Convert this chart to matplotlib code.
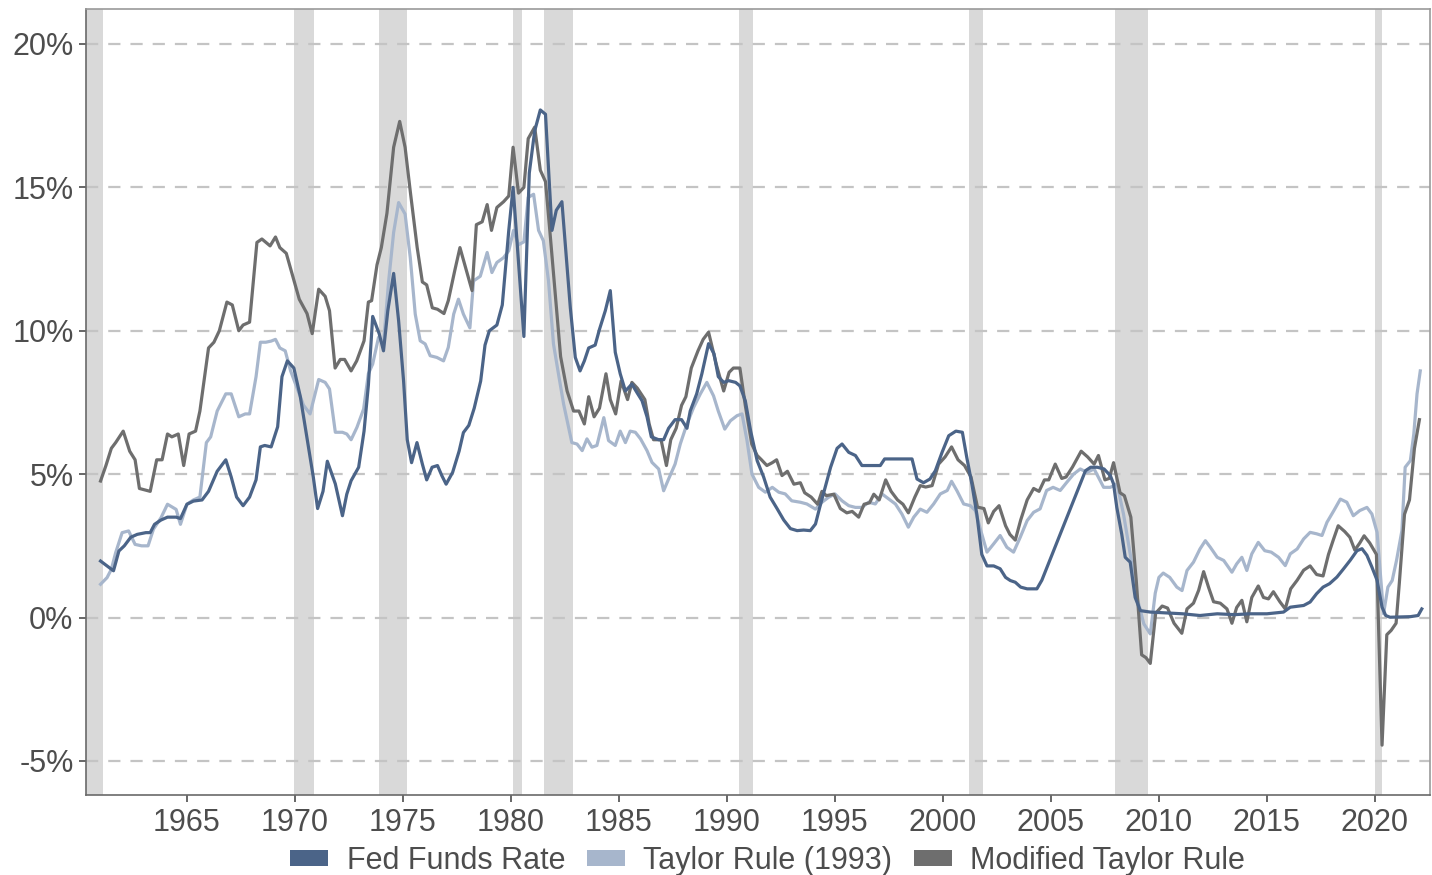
import matplotlib.pyplot as plt
from matplotlib.patches import Patch
from matplotlib.ticker import FuncFormatter

plt.rcParams['font.family'] = ['Liberation Sans', 'DejaVu Sans']

# values (year, percent)
fed_years = [1961.0, 1961.3, 1961.6, 1961.85, 1962.1, 1962.4, 1962.7, 1963.1, 1963.3, 1963.5,
             1963.8, 1964.1, 1964.5, 1964.7, 1965.0, 1965.3, 1965.7, 1966.0, 1966.4, 1966.8,
             1967.05, 1967.3, 1967.6, 1967.9, 1968.2, 1968.4, 1968.6, 1968.9, 1969.2, 1969.4,
             1969.65, 1969.95, 1970.25, 1970.55, 1970.85, 1971.05, 1971.3, 1971.5, 1971.87, 1972.2,
             1972.4, 1972.6, 1972.95, 1973.2, 1973.4, 1973.6, 1973.9, 1974.1, 1974.3, 1974.57,
             1974.8, 1975.03, 1975.2, 1975.4, 1975.65, 1975.9, 1976.1, 1976.35, 1976.6, 1976.8,
             1977.0, 1977.3, 1977.6, 1977.8, 1978.05, 1978.3, 1978.6, 1978.8, 1979.0, 1979.35,
             1979.6, 1979.9, 1980.1, 1980.35, 1980.6, 1980.85, 1981.1, 1981.36, 1981.6, 1981.9,
             1982.1, 1982.36, 1982.75, 1982.98, 1983.2, 1983.4, 1983.6, 1983.9, 1984.1, 1984.37,
             1984.6, 1984.83, 1985.06, 1985.3, 1985.6, 1985.83, 1986.07, 1986.3, 1986.5, 1986.84,
             1987.07, 1987.3, 1987.6, 1987.9, 1988.15, 1988.3, 1988.6, 1988.84, 1989.15, 1989.4,
             1989.6, 1989.85, 1990.08, 1990.4, 1990.6, 1990.85, 1991.1, 1991.4, 1991.7, 1992.0,
             1992.32, 1992.63, 1992.94, 1993.25, 1993.55, 1993.86, 1994.1, 1994.3, 1994.55, 1994.8,
             1995.1, 1995.33, 1995.64, 1995.95, 1996.25, 1996.6, 1997.1, 1997.3, 1997.7, 1998.2,
             1998.57, 1998.8, 1999.1, 1999.4, 1999.65, 1999.96, 2000.27, 2000.6, 2000.9, 2001.1,
             2001.34, 2001.57, 2001.8, 2002.04, 2002.35, 2002.65, 2002.9, 2003.12, 2003.35, 2003.6,
             2003.9, 2004.35, 2004.58, 2006.6, 2006.84, 2007.15, 2007.46, 2007.75, 2007.9, 2008.05,
             2008.28, 2008.44, 2008.67, 2008.9, 2009.14, 2009.6, 2011.1, 2011.9, 2012.7, 2013.5,
             2014.2, 2015.0, 2015.77, 2016.08, 2016.7, 2017.0, 2017.3, 2017.6, 2017.9, 2018.24,
             2018.55, 2018.86, 2019.17, 2019.4, 2019.63, 2019.86, 2020.1, 2020.33, 2020.5, 2020.7,
             2021.64, 2022.0, 2022.17]
fed_rate = [1.97, 1.8, 1.63, 2.32, 2.5, 2.8, 2.9, 2.96, 2.96, 3.25,
            3.4, 3.5, 3.5, 3.45, 3.95, 4.06, 4.1, 4.4, 5.1, 5.5,
            4.9, 4.2, 3.9, 4.2, 4.8, 5.95, 6.0, 5.95, 6.65, 8.4,
            8.95, 8.7, 7.7, 6.3, 4.9, 3.8, 4.4, 5.45, 4.66, 3.55,
            4.3, 4.77, 5.24, 6.5, 8.1, 10.5, 9.9, 9.3, 10.7, 12.0,
            10.35, 8.25, 6.2, 5.4, 6.1, 5.35, 4.8, 5.24, 5.3, 4.95,
            4.65, 5.06, 5.8, 6.45, 6.7, 7.3, 8.25, 9.5, 10.0, 10.2,
            10.9, 13.5, 15.0, 12.4, 9.8, 15.5, 16.97, 17.7, 17.55, 13.5,
            14.2, 14.5, 10.8, 9.07, 8.6, 8.95, 9.4, 9.5, 10.05, 10.7,
            11.4, 9.25, 8.5, 7.9, 8.14, 7.85, 7.56, 7.0, 6.3, 6.2,
            6.2, 6.6, 6.9, 6.9, 6.6, 7.2, 7.8, 8.5, 9.55, 9.2,
            8.4, 8.2, 8.26, 8.2, 8.08, 7.56, 6.5, 5.47, 4.9, 4.2,
            3.8, 3.4, 3.1, 3.03, 3.05, 3.03, 3.26, 3.85, 4.54, 5.24,
            5.9, 6.05, 5.76, 5.65, 5.3, 5.3, 5.3, 5.53, 5.53, 5.53,
            5.53, 4.83, 4.7, 4.83, 5.12, 5.76, 6.34, 6.5, 6.46, 5.6,
            4.66, 3.6, 2.2, 1.8, 1.8, 1.7, 1.4, 1.29, 1.23, 1.06,
            1.0, 1.0, 1.3, 5.12, 5.24, 5.24, 5.18, 4.95, 4.66, 3.84,
            2.9, 2.1, 1.93, 0.7, 0.24, 0.19, 0.13, 0.07, 0.13, 0.1,
            0.13, 0.13, 0.19, 0.36, 0.42, 0.54, 0.83, 1.06, 1.18, 1.41,
            1.7, 2.0, 2.33, 2.4, 2.17, 1.76, 1.3, 0.36, 0.07, 0.01,
            0.03, 0.07, 0.3]

taylor_years = [1961.0, 1961.3, 1961.5, 1961.7, 1962.0, 1962.3, 1962.6, 1962.9, 1963.2, 1963.45,
                1963.8, 1964.1, 1964.5, 1964.7, 1965.0, 1965.3, 1965.6, 1965.9, 1966.1, 1966.4,
                1966.8, 1967.05, 1967.4, 1967.7, 1967.9, 1968.2, 1968.4, 1968.65, 1968.9, 1969.1,
                1969.3, 1969.55, 1969.8, 1970.1, 1970.4, 1970.7, 1971.1, 1971.4, 1971.6, 1971.87,
                1972.2, 1972.4, 1972.6, 1972.87, 1973.18, 1973.4, 1973.6, 1973.87, 1974.1, 1974.34,
                1974.57, 1974.8, 1975.1, 1975.34, 1975.57, 1975.8, 1976.03, 1976.26, 1976.57, 1976.88,
                1977.1, 1977.35, 1977.57, 1977.8, 1978.1, 1978.27, 1978.58, 1978.9, 1979.12, 1979.35,
                1979.66, 1979.9, 1980.12, 1980.35, 1980.6, 1980.8, 1981.05, 1981.28, 1981.5, 1981.74,
                1981.97, 1982.2, 1982.44, 1982.67, 1982.82, 1983.06, 1983.3, 1983.52, 1983.75, 1983.98,
                1984.3, 1984.52, 1984.83, 1985.06, 1985.3, 1985.52, 1985.76, 1986.0, 1986.3, 1986.53,
                1986.84, 1987.07, 1987.3, 1987.6, 1987.84, 1988.15, 1988.46, 1988.77, 1989.07, 1989.38,
                1989.6, 1989.9, 1990.16, 1990.47, 1990.7, 1990.93, 1991.16, 1991.47, 1991.78, 1992.1,
                1992.4, 1992.7, 1993.0, 1993.4, 1993.7, 1994.1, 1994.4, 1994.7, 1995.0, 1995.33,
                1995.64, 1995.95, 1996.25, 1996.56, 1996.87, 1997.18, 1997.5, 1997.8, 1998.1, 1998.4,
                1998.65, 1998.95, 1999.26, 1999.57, 1999.88, 2000.2, 2000.4, 2000.65, 2000.96, 2001.27,
                2001.5, 2001.73, 2002.04, 2002.35, 2002.65, 2002.96, 2003.27, 2003.58, 2003.9, 2004.2,
                2004.5, 2004.8, 2005.1, 2005.43, 2005.74, 2006.05, 2006.36, 2006.67, 2007.0, 2007.2,
                2007.44, 2007.75, 2008.06, 2008.36, 2008.67, 2008.98, 2009.3, 2009.6, 2009.83, 2010.0,
                2010.2, 2010.5, 2010.83, 2011.07, 2011.3, 2011.6, 2011.9, 2012.15, 2012.38, 2012.7,
                2013.0, 2013.38, 2013.6, 2013.84, 2014.07, 2014.3, 2014.6, 2014.9, 2015.2, 2015.54,
                2015.85, 2016.08, 2016.4, 2016.7, 2017.0, 2017.3, 2017.55, 2017.78, 2018.1, 2018.4,
                2018.7, 2019.0, 2019.3, 2019.63, 2019.86, 2020.1, 2020.4, 2020.6, 2020.8, 2021.0,
                2021.25, 2021.4, 2021.64, 2021.8, 2021.95, 2022.1]
taylor_rate = [1.16, 1.39, 1.68, 2.26, 2.96, 3.02, 2.55, 2.5, 2.5, 3.08,
               3.48, 3.95, 3.77, 3.25, 3.95, 4.1, 4.2, 6.1, 6.3, 7.2,
               7.8, 7.8, 7.0, 7.1, 7.1, 8.4, 9.6, 9.6, 9.64, 9.7,
               9.4, 9.3, 8.6, 8.0, 7.4, 7.1, 8.3, 8.2, 7.97, 6.46,
               6.46, 6.4, 6.2, 6.63, 7.27, 8.5, 8.84, 9.77, 9.54, 11.74,
               13.43, 14.47, 14.07, 12.55, 10.58, 9.65, 9.54, 9.13, 9.07, 8.95,
               9.42, 10.58, 11.1, 10.58, 10.1, 11.74, 11.9, 12.73, 12.03, 12.38,
               12.55, 12.79, 13.5, 13.0, 13.1, 14.65, 14.76, 13.5, 13.14, 11.74,
               9.54, 8.5, 7.44, 6.63, 6.1, 6.05, 5.82, 6.23, 5.94, 6.0,
               6.97, 6.17, 6.0, 6.5, 6.1, 6.5, 6.46, 6.23, 5.82, 5.41,
               5.18, 4.42, 4.83, 5.35, 6.05, 6.75, 7.33, 7.8, 8.2, 7.73,
               7.2, 6.57, 6.86, 7.04, 7.1, 6.17, 5.0, 4.54, 4.37, 4.54,
               4.37, 4.31, 4.07, 4.02, 3.96, 3.78, 4.02, 4.19, 4.31, 4.07,
               3.9, 3.84, 3.84, 4.02, 3.96, 4.31, 4.13, 3.96, 3.61, 3.15,
               3.5, 3.78, 3.67, 3.96, 4.31, 4.43, 4.75, 4.42, 3.96, 3.9,
               3.73, 3.09, 2.28, 2.57, 2.86, 2.45, 2.28, 2.8, 3.38, 3.67,
               3.79, 4.43, 4.54, 4.43, 4.72, 5.0, 5.18, 5.06, 5.18, 4.89,
               4.54, 4.54, 4.66, 3.61, 2.22, 0.71, -0.22, -0.57, 0.85, 1.4,
               1.55, 1.4, 1.06, 0.94, 1.64, 1.93, 2.39, 2.68, 2.45, 2.1,
               1.99, 1.58, 1.87, 2.1, 1.64, 2.22, 2.62, 2.33, 2.28, 2.1,
               1.81, 2.22, 2.39, 2.74, 2.97, 2.92, 2.86, 3.32, 3.73, 4.13,
               4.02, 3.55, 3.73, 3.84, 3.61, 2.97, 0.13, 1.06, 1.29, 1.99,
               3.03, 5.24, 5.47, 6.4, 7.8, 8.6]

modified_years = [1961.0, 1961.25, 1961.5, 1961.7, 1962.05, 1962.35, 1962.6, 1962.8, 1963.3, 1963.6,
                  1963.85, 1964.1, 1964.3, 1964.6, 1964.85, 1965.1, 1965.4, 1965.6, 1966.0, 1966.25,
                  1966.5, 1966.85, 1967.1, 1967.4, 1967.6, 1967.9, 1968.24, 1968.47, 1968.85, 1969.1,
                  1969.3, 1969.6, 1969.9, 1970.2, 1970.56, 1970.8, 1971.1, 1971.4, 1971.6, 1971.86,
                  1972.1, 1972.3, 1972.6, 1972.86, 1973.2, 1973.4, 1973.55, 1973.8, 1974.0, 1974.26,
                  1974.57, 1974.85, 1975.1, 1975.35, 1975.66, 1975.9, 1976.1, 1976.36, 1976.6, 1976.9,
                  1977.1, 1977.4, 1977.64, 1977.9, 1978.2, 1978.4, 1978.67, 1978.9, 1979.1, 1979.35,
                  1979.66, 1979.9, 1980.1, 1980.35, 1980.6, 1980.8, 1981.1, 1981.36, 1981.6, 1981.8,
                  1982.05, 1982.3, 1982.6, 1982.9, 1983.15, 1983.4, 1983.6, 1983.85, 1984.1, 1984.4,
                  1984.6, 1984.85, 1985.1, 1985.4, 1985.6, 1985.85, 1986.2, 1986.4, 1986.6, 1986.95,
                  1987.2, 1987.4, 1987.65, 1987.9, 1988.1, 1988.35, 1988.66, 1988.9, 1989.15, 1989.5,
                  1989.85, 1990.1, 1990.3, 1990.6, 1990.85, 1991.15, 1991.4, 1991.6, 1991.85, 1992.1,
                  1992.3, 1992.55, 1992.8, 1993.1, 1993.4, 1993.6, 1993.9, 1994.2, 1994.4, 1994.6,
                  1994.95, 1995.25, 1995.55, 1995.8, 1996.1, 1996.35, 1996.6, 1996.8, 1997.05, 1997.35,
                  1997.6, 1997.9, 1998.15, 1998.4, 1998.7, 1998.95, 1999.2, 1999.5, 1999.8, 2000.1,
                  2000.4, 2000.7, 2001.0, 2001.3, 2001.6, 2001.9, 2002.1, 2002.35, 2002.6, 2002.9,
                  2003.1, 2003.35, 2003.6, 2003.9, 2004.2, 2004.45, 2004.7, 2004.9, 2005.2, 2005.5,
                  2005.7, 2006.0, 2006.4, 2006.7, 2007.0, 2007.2, 2007.5, 2007.7, 2007.9, 2008.2,
                  2008.4, 2008.7, 2008.95, 2009.2, 2009.4, 2009.6, 2009.85, 2010.15, 2010.4, 2010.7,
                  2011.06, 2011.3, 2011.6, 2011.84, 2012.07, 2012.3, 2012.53, 2012.84, 2013.15, 2013.38,
                  2013.6, 2013.84, 2014.07, 2014.3, 2014.6, 2014.84, 2015.07, 2015.3, 2015.6, 2015.85,
                  2016.1, 2016.4, 2016.7, 2017.0, 2017.3, 2017.6, 2017.85, 2018.07, 2018.3, 2018.6,
                  2018.84, 2019.07, 2019.3, 2019.5, 2019.76, 2020.07, 2020.33, 2020.55, 2020.75, 2020.98,
                  2021.13, 2021.37, 2021.6, 2021.83, 2022.06]
modified_rate = [4.76, 5.3, 5.9, 6.1, 6.5, 5.8, 5.5, 4.5, 4.4, 5.5,
                 5.5, 6.4, 6.3, 6.4, 5.3, 6.4, 6.5, 7.2, 9.4, 9.6,
                 10.0, 11.0, 10.9, 10.0, 10.2, 10.3, 13.08, 13.2, 12.96, 13.27,
                 12.9, 12.7, 11.9, 11.1, 10.6, 9.9, 11.45, 11.2, 10.7, 8.7,
                 9.0, 9.0, 8.6, 8.95, 9.65, 11.0, 11.05, 12.3, 12.9, 14.1,
                 16.4, 17.3, 16.4, 14.8, 12.9, 11.7, 11.6, 10.8, 10.75, 10.6,
                 11.05, 12.1, 12.9, 12.2, 11.4, 13.7, 13.8, 14.4, 13.5, 14.3,
                 14.5, 14.7, 16.4, 14.8, 15.0, 16.7, 17.1, 15.6, 15.2, 13.5,
                 11.3, 9.1, 7.9, 7.2, 7.2, 6.75, 7.7, 7.0, 7.3, 8.5,
                 7.6, 7.1, 8.25, 7.6, 8.2, 8.0, 7.6, 6.75, 6.2, 6.2,
                 5.3, 6.2, 6.6, 7.4, 7.7, 8.7, 9.3, 9.7, 9.95, 8.85,
                 7.9, 8.55, 8.7, 8.7, 7.4, 6.05, 5.65, 5.5, 5.3, 5.4,
                 5.5, 4.95, 5.1, 4.65, 4.7, 4.35, 4.2, 3.95, 4.4, 4.25,
                 4.3, 3.8, 3.65, 3.7, 3.5, 3.95, 4.0, 4.3, 4.1, 4.8,
                 4.4, 4.1, 3.95, 3.65, 4.2, 4.6, 4.55, 4.6, 5.35, 5.6,
                 5.95, 5.5, 5.3, 4.9, 3.85, 3.8, 3.3, 3.7, 3.9, 3.2,
                 2.9, 2.7, 3.4, 4.1, 4.5, 4.4, 4.8, 4.8, 5.35, 4.85,
                 4.9, 5.25, 5.8, 5.6, 5.35, 5.65, 4.8, 4.85, 5.4, 4.35,
                 4.25, 3.5, 1.3, -1.3, -1.4, -1.6, 0.15, 0.4, 0.33, -0.2,
                 -0.55, 0.3, 0.5, 0.95, 1.6, 1.05, 0.55, 0.5, 0.3, -0.2,
                 0.35, 0.6, -0.15, 0.7, 1.1, 0.7, 0.65, 0.9, 0.55, 0.3,
                 1.0, 1.3, 1.65, 1.8, 1.5, 1.45, 2.2, 2.7, 3.2, 3.0,
                 2.8, 2.35, 2.6, 2.85, 2.6, 2.2, -4.45, -0.6, -0.45, -0.2,
                 1.2, 3.6, 4.1, 5.9, 6.9]

recessions = [(1960.33, 1961.13), (1969.95, 1970.87), (1973.87, 1975.2), (1980.08, 1980.53),
              (1981.55, 1982.87), (1990.55, 1991.2), (2001.2, 2001.87), (2007.95, 2009.5),
              (2020.0, 2020.35)]

series_names = ["Fed Funds Rate", "Taylor Rule (1993)", "Modified Taylor Rule"]
series_colors = ["#4b6488", "#a7b6cc", "#6e6e6e"]

fig = plt.figure(figsize=(14.32, 8.75), dpi=100)
ax = fig.add_axes([0.0601, 0.0914, 0.9385, 0.8983])

for start, end in recessions:
    ax.axvspan(start, end, color="#d9d9d9", lw=0, zorder=1)

for v in [-5, 0, 5, 10, 15, 20]:
    ax.axhline(v, color="#c4c4c4", lw=1.6, dashes=(5.5, 4.5), zorder=2)

ax.plot(taylor_years, taylor_rate, color=series_colors[1], lw=2.3, zorder=3)
ax.plot(modified_years, modified_rate, color=series_colors[2], lw=2.3, zorder=4)
ax.plot(fed_years, fed_rate, color=series_colors[0], lw=2.3, zorder=5)

ax.set_xlim(1960.33, 2022.55)
ax.set_ylim(-6.19, 21.22)
ax.set_xticks(range(1965, 2021, 5))
ax.set_yticks([-5, 0, 5, 10, 15, 20])
ax.yaxis.set_major_formatter(FuncFormatter(lambda v, p: f"{int(v)}%"))
ax.tick_params(axis="both", labelsize=22, colors="#4d4d4d", length=5, width=1.2, pad=4)

for side in ["top", "right"]:
    ax.spines[side].set_color("#9a9a9a")
for side in ["left", "bottom"]:
    ax.spines[side].set_color("#6a6a6a")
for s in ax.spines.values():
    s.set_linewidth(1.2)

handles = [Patch(facecolor=c, edgecolor="none") for c in series_colors]
fig.legend(handles, series_names, loc="center", bbox_to_anchor=(0.536, 0.016), ncol=3,
           frameon=False, fontsize=22, labelcolor="#4d4d4d", handlelength=1.25, handleheight=0.45,
           handletextpad=0.6, columnspacing=0.7, borderpad=0)

fig.savefig("out.png", dpi=100)
